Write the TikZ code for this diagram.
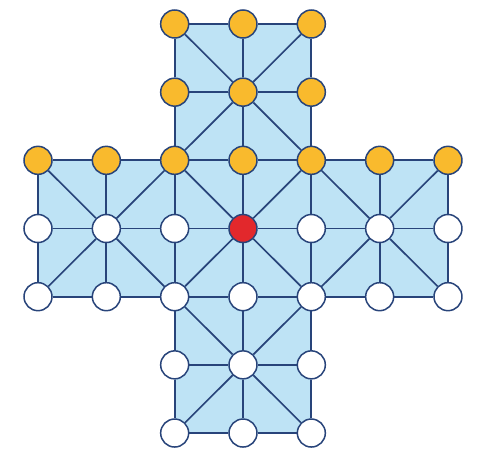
\documentclass[tikz,border=0pt]{standalone}
\definecolor{boardfill}{RGB}{190,227,245}
\definecolor{linec}{RGB}{40,68,122}
\definecolor{goose}{RGB}{249,186,45}
\definecolor{fox}{RGB}{226,40,44}
\tikzset{
  pt/.style={circle, draw=linec, line width=1.5pt, minimum size=28pt, inner sep=0pt},
  wpt/.style={pt, fill=white},
  opt/.style={pt, fill=goose},
  rpt/.style={pt, fill=fox},
  conn/.style={draw=linec, line width=1.7pt}
}
\begin{document}
\begin{tikzpicture}[x=1pt,y=-1pt]
\useasboundingbox (0,0) rectangle (478,461);
\fill[white] (0,0) rectangle (478,461);
\foreach \i in {0,...,6}{
  \foreach \j in {0,...,6}{
    \pgfmathtruncatemacro\ok{((\i>=2)&&(\i<=4))||((\j>=2)&&(\j<=4))}
    \ifnum\ok=1
      \coordinate (c\i\j) at ({38+68.33*\i},{24+68.17*\j});
    \fi
  }
}
\fill[boardfill] (c20)--(c40)--(c42)--(c62)--(c64)--(c44)--(c46)--(c26)--(c24)--(c04)--(c02)--(c22)--cycle;
% nodes
\foreach \i in {0,...,6}{
  \foreach \j in {0,...,6}{
    \pgfmathtruncatemacro\ok{((\i>=2)&&(\i<=4))||((\j>=2)&&(\j<=4))}
    \ifnum\ok=1
      \pgfmathtruncatemacro\kind{(\j<=2) ? 1 : ((\i==3)&&(\j==3) ? 2 : 0)}
      \ifcase\kind
        \node[wpt] (n\i\j) at (c\i\j) {};
      \or
        \node[opt] (n\i\j) at (c\i\j) {};
      \or
        \node[rpt] (n\i\j) at (c\i\j) {};
      \fi
    \fi
  }
}
% horizontal connectors
\foreach \j in {2,3,4}{
  \foreach \i [evaluate=\i as \k using int(\i+1)] in {0,...,5}{
    \draw[conn] (n\i\j) -- (n\k\j);
  }
}
\foreach \j in {0,1,5,6}{
  \foreach \i [evaluate=\i as \k using int(\i+1)] in {2,3}{
    \draw[conn] (n\i\j) -- (n\k\j);
  }
}
% vertical connectors
\foreach \i in {2,3,4}{
  \foreach \j [evaluate=\j as \k using int(\j+1)] in {0,...,5}{
    \draw[conn] (n\i\j) -- (n\i\k);
  }
}
\foreach \i in {0,1,5,6}{
  \foreach \j [evaluate=\j as \k using int(\j+1)] in {2,3}{
    \draw[conn] (n\i\j) -- (n\i\k);
  }
}
% diagonals
\foreach \a/\b in {1/3,5/3,3/1,3/5,3/3}{
  \pgfmathtruncatemacro\am{\a-1}
  \pgfmathtruncatemacro\ap{\a+1}
  \pgfmathtruncatemacro\bm{\b-1}
  \pgfmathtruncatemacro\bp{\b+1}
  \draw[conn] (n\a\b) -- (n\am\bm);
  \draw[conn] (n\a\b) -- (n\ap\bm);
  \draw[conn] (n\a\b) -- (n\am\bp);
  \draw[conn] (n\a\b) -- (n\ap\bp);
}
\end{tikzpicture}
\end{document}
